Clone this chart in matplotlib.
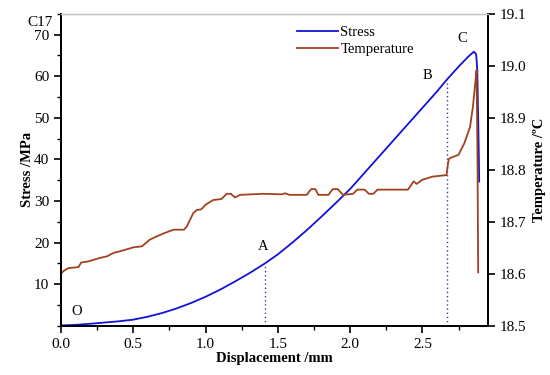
import numpy as np
import matplotlib.pyplot as plt
from matplotlib.ticker import MultipleLocator

plt.rcParams['font.family'] = ['Liberation Serif', 'DejaVu Serif']

# stress-displacement curve (displacement in mm, stress in MPa)
disp_s = [0.0, 0.1, 0.2, 0.3, 0.4, 0.5, 0.6, 0.7, 0.8, 0.9, 1.0, 1.1, 1.2, 1.3,
          1.41, 1.5, 1.6, 1.7, 1.8, 1.9, 2.0, 2.1, 2.2, 2.3, 2.4, 2.5, 2.6, 2.667,
          2.75, 2.82, 2.856, 2.872, 2.88, 2.885, 2.89, 2.893]
stress = [0.1, 0.25, 0.5, 0.8, 1.1, 1.5, 2.2, 3.1, 4.2, 5.5, 7.0, 8.7, 10.6, 12.6,
          15.0, 17.2, 20.0, 23.0, 26.2, 29.5, 32.9, 36.8, 40.7, 44.6, 48.5, 52.4, 56.3, 59.1,
          62.3, 64.8, 65.9, 65.3, 61.5, 52.0, 42.0, 34.7]

# temperature curve (deg C)
disp_t = [0.0, 0.02, 0.05, 0.12, 0.14, 0.19, 0.26, 0.32, 0.36, 0.44, 0.50, 0.56,
          0.615, 0.67, 0.72, 0.78, 0.85, 0.87, 0.915, 0.94, 0.97, 1.0, 1.053, 1.11,
          1.146, 1.175, 1.203, 1.24, 1.40, 1.53, 1.55, 1.58, 1.70, 1.73, 1.76, 1.78,
          1.85, 1.88, 1.915, 1.95, 2.02, 2.05, 2.10, 2.13, 2.16, 2.19, 2.40, 2.44,
          2.46, 2.50, 2.57, 2.667, 2.68, 2.686, 2.75, 2.79, 2.83, 2.85, 2.87, 2.875,
          2.882, 2.886]
temp = [18.601, 18.606, 18.611, 18.613, 18.622, 18.624, 18.630, 18.634, 18.640,
        18.646, 18.651, 18.653, 18.666, 18.673, 18.679, 18.685, 18.685, 18.691,
        18.717, 18.723, 18.724, 18.733, 18.742, 18.744, 18.754, 18.754, 18.747,
        18.752, 18.754, 18.753, 18.755, 18.752, 18.752, 18.763, 18.763, 18.752,
        18.752, 18.763, 18.763, 18.752, 18.754, 18.762, 18.762, 18.754, 18.754,
        18.762, 18.762, 18.778, 18.773, 18.781, 18.787, 18.790, 18.817, 18.822,
        18.829, 18.851, 18.883, 18.922, 18.979, 18.992, 18.80, 18.603]

# marked points
pt_x = {'A': 1.41, 'B': 2.667}
labels = [('O', 0.07, 3.4), ('A', 1.36, 19.0), ('B', 2.50, 60.3), ('C', 2.745, 69.0)]

fig = plt.figure(figsize=(5.5, 3.75), dpi=100)
ax = fig.add_axes([0.111, 0.131, 0.776, 0.832])
ax2 = ax.twinx()

l1, = ax.plot(disp_s, stress, color='#1212d8', linewidth=1.3, label='Stress')
l2, = ax2.plot(disp_t, temp, color='#a2411f', linewidth=1.3, label='Temperature')

# dotted drop lines at A and B
for k, xv in pt_x.items():
    ax.vlines(xv, 0, np.interp(xv, disp_s, stress), colors='#3a3aa0',
              linestyles=(0, (1, 2)), linewidth=1.0)

for name, xv, yv in labels:
    ax.text(xv, yv, name, fontsize=10.5, ha='left', va='center')

fig.text(0.073, 0.94, 'C17', fontsize=11, ha='center', va='center')

ax.set_xlim(0, 2.953)
ax.set_ylim(0, 75)
ax2.set_ylim(18.5, 19.1)

ax.set_yticks(range(10, 71, 10))
ax.yaxis.set_minor_locator(MultipleLocator(5))
ax.xaxis.set_major_locator(MultipleLocator(0.5))
ax.xaxis.set_minor_locator(MultipleLocator(0.25))
ax2.set_yticks(np.arange(18.5, 19.11, 0.1))
ax2.set_yticklabels(['18.5', '18.6', '18.7', '18.8', '18.9', '19.0', '19.1'])

for a in (ax, ax2):
    a.tick_params(which='major', direction='out', length=5, width=1.2, labelsize=11)
    a.tick_params(which='minor', direction='out', length=3, width=1.0)
    for s in ('left', 'right', 'bottom'):
        a.spines[s].set_linewidth(1.4)
    a.spines['top'].set_color('#c8c8c8')
    a.spines['top'].set_linewidth(1.0)

ax.set_xlabel('Displacement /mm', fontsize=10.5, fontweight='bold', labelpad=1)
ax.set_ylabel('Stress /MPa', fontsize=10.5, fontweight='bold', labelpad=0)
ax2.set_ylabel('Temperature /ºC', fontsize=10.5, fontweight='bold', labelpad=5)

ax.legend(handles=[l1, l2], loc='upper left', bbox_to_anchor=(0.53, 0.995),
          frameon=False, fontsize=10.5, handlelength=2.8, handletextpad=0.15,
          labelspacing=0.3, borderaxespad=0.3)

fig.savefig('out.png', dpi=100)
